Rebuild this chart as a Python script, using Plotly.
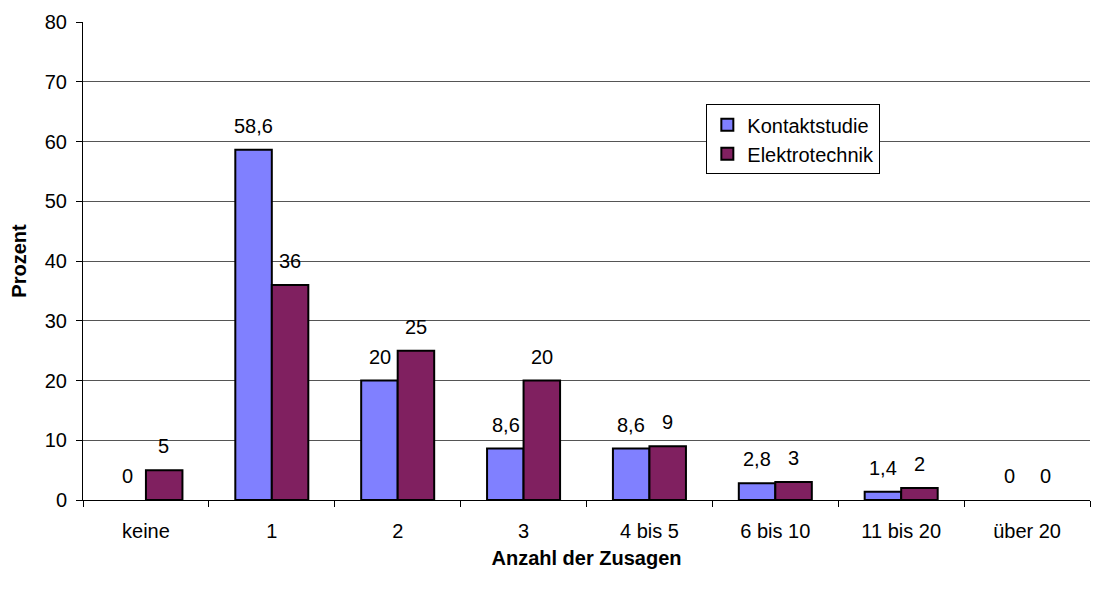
import plotly.graph_objects as go

kategorien = ["keine", "1", "2", "3", "4 bis 5", "6 bis 10", "11 bis 20", "über 20"]
kontaktstudie = [0, 58.6, 20, 8.6, 8.6, 2.8, 1.4, 0]
elektrotechnik = [5, 36, 25, 20, 9, 3, 2, 0]

farbe_k = "#8080FF"
farbe_e = "#802060"
fs = 20


def de(v):
    return ("%g" % v).replace(".", ",")


fig = go.Figure()
for name, werte, farbe in [("Kontaktstudie", kontaktstudie, farbe_k),
                           ("Elektrotechnik", elektrotechnik, farbe_e)]:
    # Wert 0 -> kein Balken (Excel zeigt dort nichts), Beschriftung bleibt
    fig.add_trace(go.Bar(
        x=kategorien, y=[v if v else None for v in werte], name=name,
        marker=dict(color=farbe, line=dict(color="black", width=2))))

# Datenbeschriftungen wie in Excel etwas über dem Balken
for werte, dx in [(kontaktstudie, -18), (elektrotechnik, 18)]:
    for k, v in zip(kategorien, werte):
        fig.add_annotation(x=k, y=v, text=de(v), showarrow=False,
                           xshift=dx, yshift=24, font=dict(size=fs, color="black"))

# die Seite hat 8px Rand, daher Figur etwas kleiner
fig.update_layout(
    width=1091, height=591,
    margin=dict(l=75, r=9, t=14, b=99),
    plot_bgcolor="white", paper_bgcolor="white",
    font=dict(family="Liberation Sans, Arial", size=fs, color="black"),
    barmode="group", bargap=0.42, bargroupgap=0,
    legend=dict(x=0.619, y=0.828, xanchor="left", yanchor="top",
                bordercolor="black", borderwidth=1, bgcolor="white",
                font=dict(size=fs), tracegroupgap=0),
    showlegend=True,
)
fig.update_xaxes(
    type="category", tickson="boundaries", ticks="outside", ticklen=6,
    tickcolor="black", showline=True, linecolor="black", linewidth=1,
    showgrid=False, ticklabelstandoff=13, automargin=False,
    title=dict(text="<b>Anzahl der Zusagen</b>", standoff=9, font=dict(size=fs)),
)
fig.update_yaxes(
    range=[0, 80], dtick=10, ticks="outside", ticklen=6, tickcolor="black",
    showline=True, linecolor="black", linewidth=1,
    showgrid=True, gridcolor="#555555", gridwidth=1, zeroline=False,
    ticklabelstandoff=5, automargin=False,
    title=dict(text="<b>Prozent</b>", standoff=14, font=dict(size=fs)),
)

fig.write_html("out.html")
